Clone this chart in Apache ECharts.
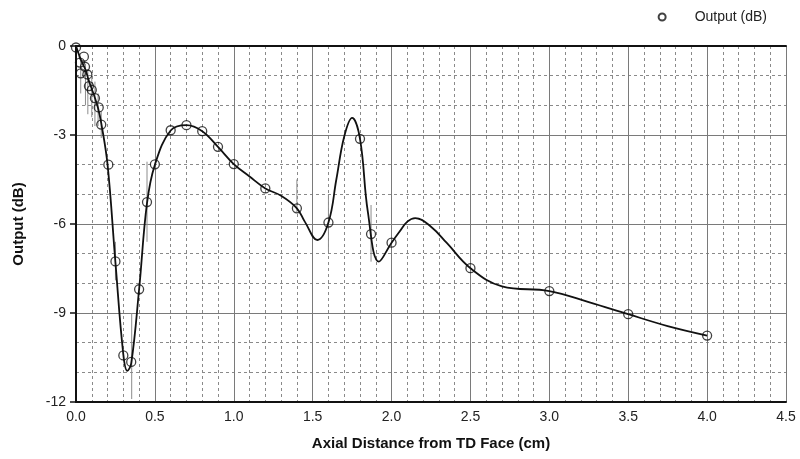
<!DOCTYPE html>
<html>
<head>
<meta charset="utf-8">
<script src="https://cdn.jsdelivr.net/npm/echarts@6/dist/echarts.min.js"></script>
<style>html,body{margin:0;padding:0;background:#fff}#c{width:800px;height:459px}</style>
</head>
<body>
<div id="c"></div>
<script>
// Measured points (Output dB)
var pointX = [0, 0.025, 0.03, 0.05, 0.057, 0.072, 0.082, 0.1, 0.12, 0.144, 0.16, 0.205, 0.25, 0.3, 0.35, 0.4, 0.45, 0.5, 0.6, 0.7, 0.8, 0.9, 1.0, 1.2, 1.4, 1.6, 1.8, 1.87, 2.0, 2.5, 3.0, 3.5, 4.0];
var pointY = [-0.05, -0.56, -0.92, -0.36, -0.7, -0.96, -1.35, -1.48, -1.76, -2.07, -2.65, -4.0, -7.26, -10.43, -10.65, -8.2, -5.26, -3.99, -2.84, -2.67, -2.87, -3.4, -3.98, -4.8, -5.47, -5.95, -3.13, -6.34, -6.63, -7.49, -8.26, -9.04, -9.76];
// Fitted curve
var curveX = [0, 0.03, 0.06, 0.08, 0.1, 0.12, 0.14, 0.16, 0.2, 0.25, 0.3, 0.325, 0.35, 0.4, 0.45, 0.5, 0.6, 0.7, 0.8, 0.9, 1.0, 1.1, 1.2, 1.3, 1.4, 1.45, 1.53, 1.6, 1.65, 1.7, 1.75, 1.8, 1.85, 1.92, 2.0, 2.05, 2.1, 2.15, 2.25, 2.35, 2.5, 2.7, 3.0, 3.25, 3.5, 3.75, 4.0];
var curveY = [0, -0.45, -0.8, -1.15, -1.45, -1.75, -2.1, -2.6, -4.0, -7.3, -10.4, -10.95, -10.7, -8.2, -5.3, -4.0, -2.85, -2.67, -2.87, -3.4, -3.98, -4.4, -4.8, -5.05, -5.47, -5.92, -6.54, -5.95, -4.5, -3.05, -2.42, -3.13, -5.6, -7.27, -6.63, -6.26, -5.92, -5.8, -6.09, -6.64, -7.49, -8.1, -8.26, -8.63, -9.04, -9.44, -9.76];
// Gray spread bars
var barX = [0.03, 0.06, 0.075, 0.1, 0.12, 0.14, 0.16, 0.25, 0.353, 0.45, 1.4, 1.6, 1.87];
var barLo = [-1.6, -2.0, -2.3, -2.4, -2.7, -2.7, -3.1, -7.9, -11.9, -6.6, -5.6, -6.93, -7.27];
var barHi = [-0.5, -0.6, -0.8, -1.0, -1.2, -1.6, -2.2, -6.6, -9.0, -3.9, -4.5, -5.0, -5.36];
var xTicks = {min: 0, max: 4.5, interval: 0.5};
var yTicks = {min: -12, max: 0, interval: 3};

var pts = pointX.map(function (x, i) { return [x, pointY[i]]; });
var curve = curveX.map(function (x, i) { return [x, curveY[i]]; });
var bars = barX.map(function (x, i) { return [x, barLo[i], barHi[i]]; });

var font = '"Liberation Sans", Arial, sans-serif';
var chart = echarts.init(document.getElementById('c'));
chart.setOption({
  backgroundColor: '#fff',
  animation: false,
  textStyle: {fontFamily: font},
  grid: {left: 76, right: 14, top: 46, bottom: 57, containLabel: false},
  legend: {
    right: 28, top: 5, itemWidth: 7, itemHeight: 7, itemGap: 8,
    textStyle: {fontSize: 14, color: '#222', fontFamily: font, padding: [0, 0, 0, 24]},
    data: [{name: 'Output (dB)', icon: 'circle', itemStyle: {color: '#fff', borderColor: '#111', borderWidth: 2}}]
  },
  xAxis: [{
    type: 'value', min: xTicks.min, max: xTicks.max, interval: xTicks.interval,
    name: 'Axial Distance from TD Face (cm)', nameLocation: 'middle', nameGap: 34,
    nameTextStyle: {fontSize: 15, fontWeight: 'bold', color: '#111', fontFamily: font},
    axisLine: {show: true, onZero: false, lineStyle: {color: '#111', width: 2}},
    axisTick: {show: false},
    axisLabel: {fontSize: 14, color: '#222', margin: 8, formatter: function (v) { return v.toFixed(1); }},
    splitLine: {show: true, lineStyle: {color: '#7a7a7a', width: 1}},
    minorTick: {show: false, splitNumber: 5},
    minorSplitLine: {show: true, lineStyle: {color: '#8a8a8a', width: 1, type: [3, 3]}}
  }, {
    type: 'value', position: 'top', min: xTicks.min, max: xTicks.max, interval: xTicks.interval,
    axisLine: {show: true, lineStyle: {color: '#111', width: 2}},
    axisTick: {show: false}, axisLabel: {show: false}, splitLine: {show: false}
  }],
  yAxis: {
    type: 'value', min: yTicks.min, max: yTicks.max, interval: yTicks.interval,
    name: 'Output (dB)', nameLocation: 'middle', nameGap: 50, nameRotate: 90,
    nameTextStyle: {fontSize: 15, fontWeight: 'bold', color: '#111', fontFamily: font},
    axisLine: {show: true, onZero: false, lineStyle: {color: '#111', width: 2}},
    axisTick: {show: true, inside: false, length: 6, lineStyle: {color: '#111', width: 1.5}},
    axisLabel: {fontSize: 14, color: '#222', margin: 10},
    splitLine: {show: true, lineStyle: {color: '#7a7a7a', width: 1}},
    minorTick: {show: false, splitNumber: 3},
    minorSplitLine: {show: true, lineStyle: {color: '#8a8a8a', width: 1, type: [3, 3]}}
  },
  series: [{
    type: 'custom', name: 'bars', silent: true, z: 2,
    data: bars,
    renderItem: function (params, api) {
      var a = api.coord([api.value(0), api.value(1)]);
      var b = api.coord([api.value(0), api.value(2)]);
      return {type: 'line', shape: {x1: a[0], y1: a[1], x2: b[0], y2: b[1]}, style: {stroke: '#8c8c8c', lineWidth: 1}};
    }
  }, {
    type: 'line', name: 'curve', data: curve, smooth: 0.4, showSymbol: false, symbol: 'none',
    lineStyle: {color: '#111', width: 1.8}, z: 3
  }, {
    type: 'scatter', name: 'Output (dB)', data: pts, symbol: 'circle', symbolSize: 9,
    itemStyle: {color: 'rgba(255,255,255,0)', borderColor: '#111', borderWidth: 1.3}, z: 4
  }]
});
</script>
</body>
</html>
